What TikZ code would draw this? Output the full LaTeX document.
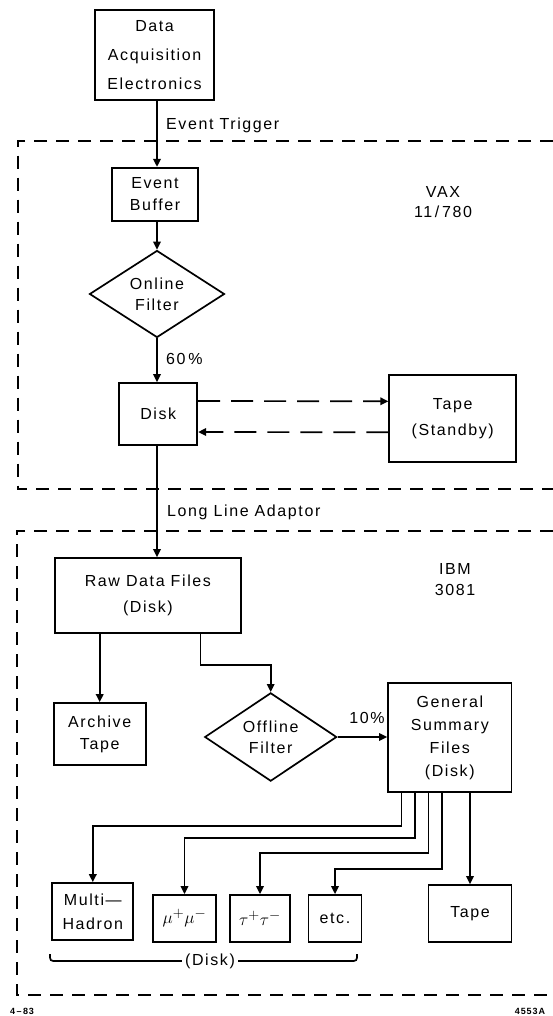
\documentclass[tikz,border=0pt]{standalone}
\usepackage{fontspec}
\setmainfont[LetterSpace=10]{Liberation Sans}
\usetikzlibrary{arrows.meta,shapes.geometric}

\begin{document}
\begin{tikzpicture}[x=1pt,y=-1pt,
  every node/.style={font=\fontsize{16}{22}\selectfont, align=center, inner sep=0pt},
  pitch/.style={font=\fontsize{16}{#1}\selectfont},
  box/.style={draw, line width=1.7pt},
  dec/.style={draw, diamond, line width=1.7pt},
  link/.style={line width=1.7pt},
  flow/.style={line width=1.7pt, -{Triangle[length=8pt,width=7.5pt]}},
  zone/.style={line width=1.7pt, dash pattern=on 13pt off 9pt},
  feed/.style={line width=1.7pt, dash pattern=on 22pt off 11pt, -{Triangle[length=8pt,width=7.5pt]}},
  tag/.style={anchor=west},
  greek/.style={font=\fontsize{19}{22}\selectfont},
  foot/.style={font=\fontsize{9}{10}\bfseries\selectfont}
]
\useasboundingbox (0,0) rectangle (553,1016);

% vertical spine of the acquisition chain
\coordinate (spine) at (157,0);

% ---- computer boundaries ----
\draw[zone] (553,140.7) -- (18,140.7) -- (18,489.3) -- (553,489.3);
\draw[zone] (553,530.7) -- (16.7,530.7) -- (16.7,995) -- (553,995);

\node (vax) [pitch=20] at (443,202) {VAX\\11\,/\,780};
\node (ibm) [pitch=21] at (455,580) {IBM\\3081};

% ---- online chain ----
\node[box, pitch=29, minimum width=119pt, minimum height=90pt] (daq) at (154.6,55) {Data\\Acquisition\\Electronics};
\node[box, minimum width=86.6pt, minimum height=53pt] (buf) at (155,194.2) {Event\\Buffer};
\node[dec, pitch=21, minimum width=135pt, minimum height=78pt] (onf) at (157,294) {Online\\Filter};
\node[box, minimum width=78pt, minimum height=62pt] (disk) at (158.3,414) {Disk};
\node[box, pitch=26, minimum width=127pt, minimum height=87pt] (stby) at (452.7,418.3) {Tape\\(Standby)};

\draw[flow] (daq.south -| spine) -- (buf.north -| spine);
\draw[flow] (buf.south -| spine) -- (onf.north);
\draw[flow] (onf.south) -- (disk.north -| onf.south);
\draw[feed] ([yshift=13pt]disk.east) -- ([yshift=17pt]stby.west);
\draw[feed] ([yshift=-14pt]stby.west) -- ([yshift=-18pt]disk.east);

\node[tag] (trig) at (166,125) {Event Trigger};
\node[tag] (p60) at (166,359) {60\,\%};
\node[tag] (lla) at (167,512) {Long Line Adaptor};

% ---- offline chain ----
\node[box, pitch=26, minimum width=185.7pt, minimum height=75pt] (raw) at (147.9,595.5) {Raw Data Files\\(Disk)};
\node[box, minimum width=92pt, minimum height=62pt] (arch) at (99.7,734) {Archive\\Tape};
\node[dec, pitch=21, minimum width=132pt, minimum height=78pt] (off) at (270.7,737) {Offline\\Filter};
\node[box, pitch=23, minimum width=123.5pt, minimum height=109pt] (gsf) at (449.8,737.5) {General\\Summary\\Files\\(Disk)};
\node (p10) at (367,718) {10\%};

\draw[flow] (disk.south -| spine) -- (raw.north -| spine);
\draw[flow] (raw.south -| arch.north) -- (arch.north);
\draw[flow] ([xshift=52.5pt]raw.south) -- ++(0,31) -| (off.north);
\draw[flow] (off.east) -- (off.east -| gsf.west);

% ---- summary outputs ----
\node[box, pitch=24, minimum width=81pt, minimum height=57pt] (mh) at (92.8,911.5) {Multi—\\Hadron};
\node[box, greek, minimum width=63pt, minimum height=46.7pt] (mumu) at (184.5,918.3) {$\mu^+\mu^-$};
\node[box, greek, minimum width=60pt, minimum height=46.7pt] (tautau) at (260,918.3) {$\tau^+\tau^-$};
\node[box, minimum width=53pt, minimum height=46.7pt] (etc) at (335,918.3) {etc.};
\node[box, minimum width=83pt, minimum height=57pt] (tape) at (470,913.5) {Tape};

\draw[flow] ([xshift=-48.4pt]gsf.south) -- ++(0,33) -| (mh.north);
\draw[flow] ([xshift=-34.6pt]gsf.south) -- ++(0,45) -| (mumu.north);
\draw[flow] ([xshift=-21.2pt]gsf.south) -- ++(0,60) -| (tautau.north);
\draw[flow] ([xshift=-7.8pt]gsf.south) -- ++(0,76) -| (etc.north);
\draw[flow] (gsf.south -| tape.north) -- (tape.north);

% grouping bracket under the disk files
\node[inner xsep=3pt] (dgrp) at (210,961) {(Disk)};
\draw[link] (50,954) .. controls (50,961) .. (57,961) -- (dgrp.west);
\draw[link] (dgrp.east) -- (350,961) .. controls (357,961) .. (357,954);

% drawing reference numbers
\node[foot] (date) at (22,1011) {4\,–\,83};
\node[foot] (num) at (530,1011) {4553A};
\end{tikzpicture}
\end{document}
